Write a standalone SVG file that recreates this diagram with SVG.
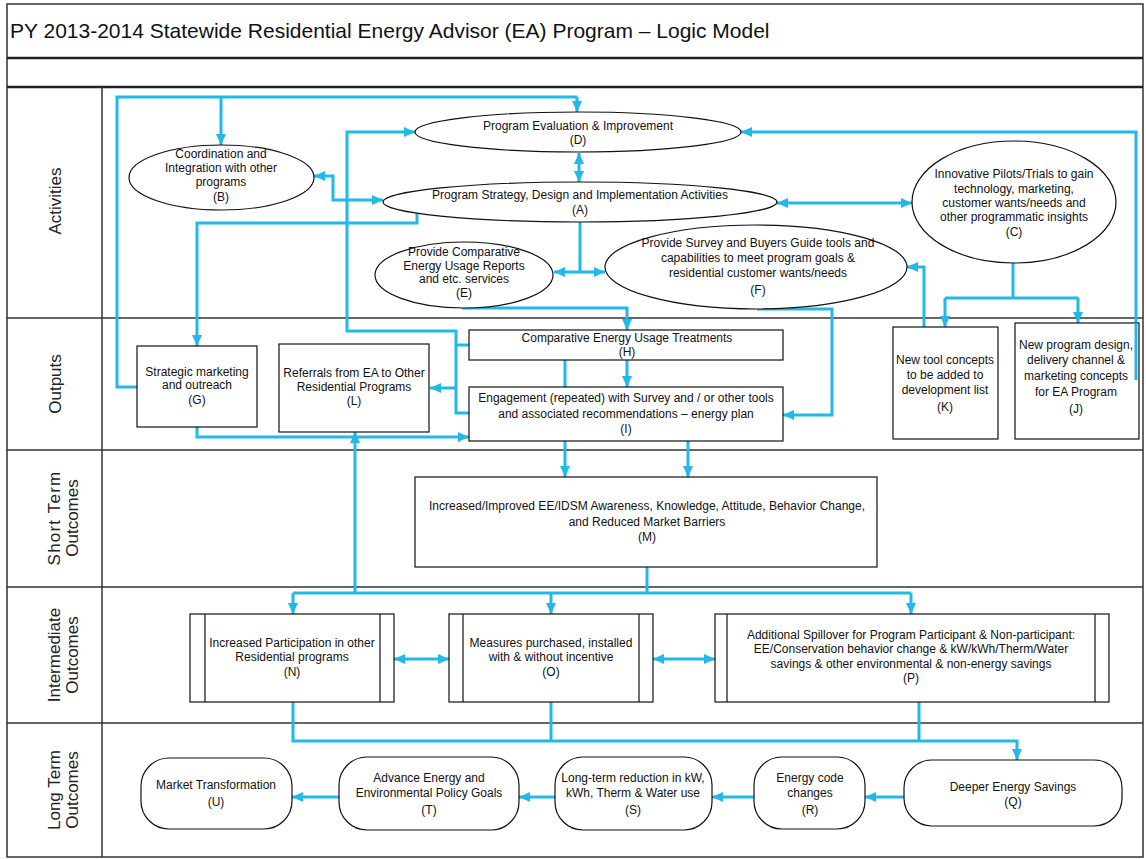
<svg xmlns="http://www.w3.org/2000/svg" width="1146" height="859" viewBox="0 0 1146 859">
  <defs>
    <marker id="ah" viewBox="0 0 11 10" refX="11" refY="5" markerWidth="11" markerHeight="10" markerUnits="userSpaceOnUse" orient="auto-start-reverse">
      <path d="M0,0 L11,5 L0,10 z" fill="#22b8e8"/>
    </marker>
  </defs>
  <style>
    .frame { fill: none; stroke: #333; stroke-width: 1.5; }
    .thick { stroke: #222; stroke-width: 2.5; }
    .lane { font-family: "Liberation Sans", Arial, sans-serif; font-size: 17px; fill: #222; text-anchor: middle; }
    .title { font-family: "Liberation Sans", Arial, sans-serif; font-size: 21px; fill: #111; }
    .shape { fill: #fff; stroke: #111; stroke-width: 1.2; }
    .t { font-family: "Liberation Sans", Arial, sans-serif; font-size: 12px; fill: #111; text-anchor: middle; }
    .c { fill: none; stroke: #22b8e8; stroke-width: 3; }
    .a { marker-end: url(#ah); }
    .d { marker-start: url(#ah); marker-end: url(#ah); }
  </style>

  <rect width="1146" height="859" fill="#fff"/>

  <!-- frame, title band and swimlanes -->
  <g id="frame">
    <rect class="frame" x="7" y="4" width="1136" height="853"/>
    <line class="thick" x1="7" y1="58" x2="1143" y2="58"/>
    <line class="thick" x1="7" y1="87" x2="1143" y2="87"/>
    <line class="frame" x1="102" y1="87" x2="102" y2="857"/>
    <line class="frame" x1="7" y1="318" x2="1143" y2="318"/>
    <line class="frame" x1="7" y1="450" x2="1143" y2="450"/>
    <line class="frame" x1="7" y1="587" x2="1143" y2="587"/>
    <line class="frame" x1="7" y1="723" x2="1143" y2="723"/>
    <text class="title" x="10" y="38">PY 2013-2014 Statewide Residential Energy Advisor (EA) Program – Logic Model</text>
    <text class="lane" transform="translate(61,201) rotate(-90)">Activities</text>
    <text class="lane" transform="translate(61,384) rotate(-90)">Outputs</text>
    <text class="lane" transform="translate(60,518) rotate(-90)"><tspan x="0" y="0" letter-spacing="1.2">Short Term</tspan><tspan x="0" y="18">Outcomes</tspan></text>
    <text class="lane" transform="translate(60,655) rotate(-90)"><tspan x="0" y="0">Intermediate</tspan><tspan x="0" y="18">Outcomes</tspan></text>
    <text class="lane" transform="translate(60,790) rotate(-90)"><tspan x="0" y="0">Long Term</tspan><tspan x="0" y="18">Outcomes</tspan></text>
  </g>

  <!-- connectors -->
  <g id="connectors">
    <path class="c" d="M137,387 H117 V97 H577"/>
    <path class="c a" d="M577,97 V112"/>
    <path class="c a" d="M221,97 V145"/>
    <path class="c a" d="M1136,380 V132 H741"/>
    <path class="c d" d="M579,153 V182"/>
    <path class="c d" d="M314,176 H333 V200 H383"/>
    <path class="c a" d="M469,413 H456 V331 H347 V132 H415"/>
    <path class="c" d="M456,345 H469"/>
    <path class="c a" d="M456,388 H430"/>
    <path class="c a" d="M417,213 V223 H197 V346"/>
    <path class="c" d="M580,222 V272"/>
    <path class="c d" d="M554,272 H605"/>
    <path class="c d" d="M777,203 H912"/>
    <path class="c a" d="M462,308 H627 V330"/>
    <path class="c a" d="M627,360 V387"/>
    <path class="c" d="M565,360 V387"/>
    <path class="c a" d="M565,441 V477"/>
    <path class="c a" d="M688,441 V477"/>
    <path class="c a" d="M757,309 H832 V415 H783"/>
    <path class="c" d="M1013,263 V298"/>
    <path class="c" d="M945,298 H1078"/>
    <path class="c a" d="M945,298 V327"/>
    <path class="c a" d="M1078,298 V323"/>
    <path class="c a" d="M924,327 V267 H907"/>
    <path class="c a" d="M197,427 V437 H469"/>
    <path class="c" d="M647,567 V593"/>
    <path class="c" d="M293,593 H911"/>
    <path class="c a" d="M293,593 V614"/>
    <path class="c a" d="M551,593 V614"/>
    <path class="c a" d="M911,593 V614"/>
    <path class="c a" d="M355,593 V432"/>
    <path class="c d" d="M394,659 H449"/>
    <path class="c d" d="M653,659 H715"/>
    <path class="c a" d="M293,702 V741 H1017 V760"/>
    <path class="c" d="M551,702 V741"/>
    <path class="c" d="M919,702 V741"/>
    <path class="c a" d="M904,797 H865"/>
    <path class="c a" d="M754,797 H712"/>
    <path class="c a" d="M555,797 H519"/>
    <path class="c a" d="M339,797 H292"/>
  </g>

  <!-- activities -->
  <g id="node-D">
    <ellipse class="shape" cx="578" cy="132" rx="163" ry="20"/>
    <text class="t" x="578" y="130">Program Evaluation &amp; Improvement</text>
    <text class="t" x="578" y="144">(D)</text>
  </g>
  <g id="node-B">
    <ellipse class="shape" cx="221.5" cy="177.5" rx="92.5" ry="32.5"/>
    <text class="t" x="221" y="158">Coordination and</text>
    <text class="t" x="221" y="172">Integration with other</text>
    <text class="t" x="221" y="186">programs</text>
    <text class="t" x="221" y="201">(B)</text>
  </g>
  <g id="node-A">
    <ellipse class="shape" cx="580" cy="202" rx="197" ry="20"/>
    <text class="t" x="580" y="199">Program Strategy, Design and Implementation Activities</text>
    <text class="t" x="580" y="214">(A)</text>
  </g>
  <g id="node-C">
    <ellipse class="shape" cx="1014" cy="202" rx="102" ry="61"/>
    <text class="t" x="1014" y="178">Innovative Pilots/Trials to gain</text>
    <text class="t" x="1014" y="193">technology, marketing,</text>
    <text class="t" x="1014" y="207">customer wants/needs and</text>
    <text class="t" x="1014" y="221">other programmatic insights</text>
    <text class="t" x="1014" y="236">(C)</text>
  </g>
  <g id="node-E">
    <ellipse class="shape" cx="464" cy="275" rx="89" ry="33"/>
    <text class="t" x="464" y="256">Provide Comparative</text>
    <text class="t" x="464" y="270">Energy Usage Reports</text>
    <text class="t" x="464" y="283">and etc. services</text>
    <text class="t" x="464" y="297">(E)</text>
  </g>
  <g id="node-F">
    <ellipse class="shape" cx="756" cy="267" rx="151" ry="42"/>
    <text class="t" x="758" y="247">Provide Survey and Buyers Guide tools and</text>
    <text class="t" x="758" y="262">capabilities to meet program goals &amp;</text>
    <text class="t" x="758" y="277">residential customer wants/needs</text>
    <text class="t" x="758" y="294">(F)</text>
  </g>

  <!-- outputs -->
  <g id="node-G">
    <rect class="shape" x="137" y="346" width="120" height="81"/>
    <text class="t" x="197" y="376">Strategic marketing</text>
    <text class="t" x="197" y="389">and outreach</text>
    <text class="t" x="197" y="404">(G)</text>
  </g>
  <g id="node-L">
    <rect class="shape" x="279" y="344" width="150" height="88"/>
    <text class="t" x="354" y="377">Referrals from EA to Other</text>
    <text class="t" x="354" y="391">Residential Programs</text>
    <text class="t" x="354" y="405">(L)</text>
  </g>
  <g id="node-H">
    <rect class="shape" x="469" y="330" width="314" height="30"/>
    <text class="t" x="627" y="342">Comparative Energy Usage Treatments</text>
    <text class="t" x="627" y="356">(H)</text>
  </g>
  <g id="node-I">
    <rect class="shape" x="469" y="387" width="314" height="54"/>
    <text class="t" x="626" y="402">Engagement (repeated) with Survey and / or other tools</text>
    <text class="t" x="626" y="418">and associated recommendations – energy plan</text>
    <text class="t" x="626" y="433">(I)</text>
  </g>
  <g id="node-K">
    <rect class="shape" x="893" y="327" width="105" height="112"/>
    <text class="t" x="945" y="364">New tool concepts</text>
    <text class="t" x="945" y="379">to be added to</text>
    <text class="t" x="945" y="394">development list</text>
    <text class="t" x="945" y="411">(K)</text>
  </g>
  <g id="node-J">
    <rect class="shape" x="1015" y="323" width="124" height="116"/>
    <text class="t" x="1076" y="349">New program design,</text>
    <text class="t" x="1076" y="364">delivery channel &amp;</text>
    <text class="t" x="1076" y="380">marketing concepts</text>
    <text class="t" x="1076" y="396">for EA Program</text>
    <text class="t" x="1076" y="413">(J)</text>
  </g>
  <!-- redraw of the return line that runs over box J -->
  <path class="c" d="M1136,380 V323"/>

  <!-- short term outcome -->
  <g id="node-M">
    <rect class="shape" x="415" y="477" width="462" height="90"/>
    <text class="t" x="647" y="510">Increased/Improved EE/IDSM Awareness, Knowledge, Attitude, Behavior Change,</text>
    <text class="t" x="647" y="526">and Reduced Market Barriers</text>
    <text class="t" x="647" y="541">(M)</text>
  </g>

  <!-- intermediate outcomes -->
  <g id="node-N">
    <rect class="shape" x="190" y="614" width="204" height="88"/>
    <line class="shape" x1="205" y1="614" x2="205" y2="702"/>
    <line class="shape" x1="380" y1="614" x2="380" y2="702"/>
    <text class="t" x="292" y="647">Increased Participation in other</text>
    <text class="t" x="292" y="661">Residential programs</text>
    <text class="t" x="292" y="676">(N)</text>
  </g>
  <g id="node-O">
    <rect class="shape" x="449" y="614" width="204" height="88"/>
    <line class="shape" x1="463" y1="614" x2="463" y2="702"/>
    <line class="shape" x1="639" y1="614" x2="639" y2="702"/>
    <text class="t" x="551" y="647">Measures purchased, installed</text>
    <text class="t" x="551" y="661">with &amp; without incentive</text>
    <text class="t" x="551" y="676">(O)</text>
  </g>
  <g id="node-P">
    <rect class="shape" x="715" y="614" width="394" height="88"/>
    <line class="shape" x1="727" y1="614" x2="727" y2="702"/>
    <line class="shape" x1="1095" y1="614" x2="1095" y2="702"/>
    <text class="t" x="911" y="639">Additional Spillover for Program Participant &amp; Non-participant:</text>
    <text class="t" x="911" y="653">EE/Conservation behavior change &amp; kW/kWh/Therm/Water</text>
    <text class="t" x="911" y="668">savings &amp; other environmental &amp; non-energy savings</text>
    <text class="t" x="911" y="682">(P)</text>
  </g>

  <!-- long term outcomes -->
  <g id="node-U">
    <rect class="shape" x="141" y="758" width="151" height="71" rx="28"/>
    <text class="t" x="216" y="789">Market Transformation</text>
    <text class="t" x="216" y="806">(U)</text>
  </g>
  <g id="node-T">
    <rect class="shape" x="339" y="757" width="180" height="73" rx="28"/>
    <text class="t" x="429" y="782">Advance Energy and</text>
    <text class="t" x="429" y="797">Environmental Policy Goals</text>
    <text class="t" x="429" y="814">(T)</text>
  </g>
  <g id="node-S">
    <rect class="shape" x="555" y="757" width="157" height="73" rx="28"/>
    <text class="t" x="633" y="782">Long-term reduction in kW,</text>
    <text class="t" x="633" y="797">kWh, Therm &amp; Water  use</text>
    <text class="t" x="633" y="814">(S)</text>
  </g>
  <g id="node-R">
    <rect class="shape" x="754" y="757" width="111" height="72" rx="28"/>
    <text class="t" x="810" y="782">Energy code</text>
    <text class="t" x="810" y="797">changes</text>
    <text class="t" x="810" y="814">(R)</text>
  </g>
  <g id="node-Q">
    <rect class="shape" x="904" y="760" width="218" height="66" rx="28"/>
    <text class="t" x="1013" y="791">Deeper Energy Savings</text>
    <text class="t" x="1013" y="806">(Q)</text>
  </g>
</svg>
